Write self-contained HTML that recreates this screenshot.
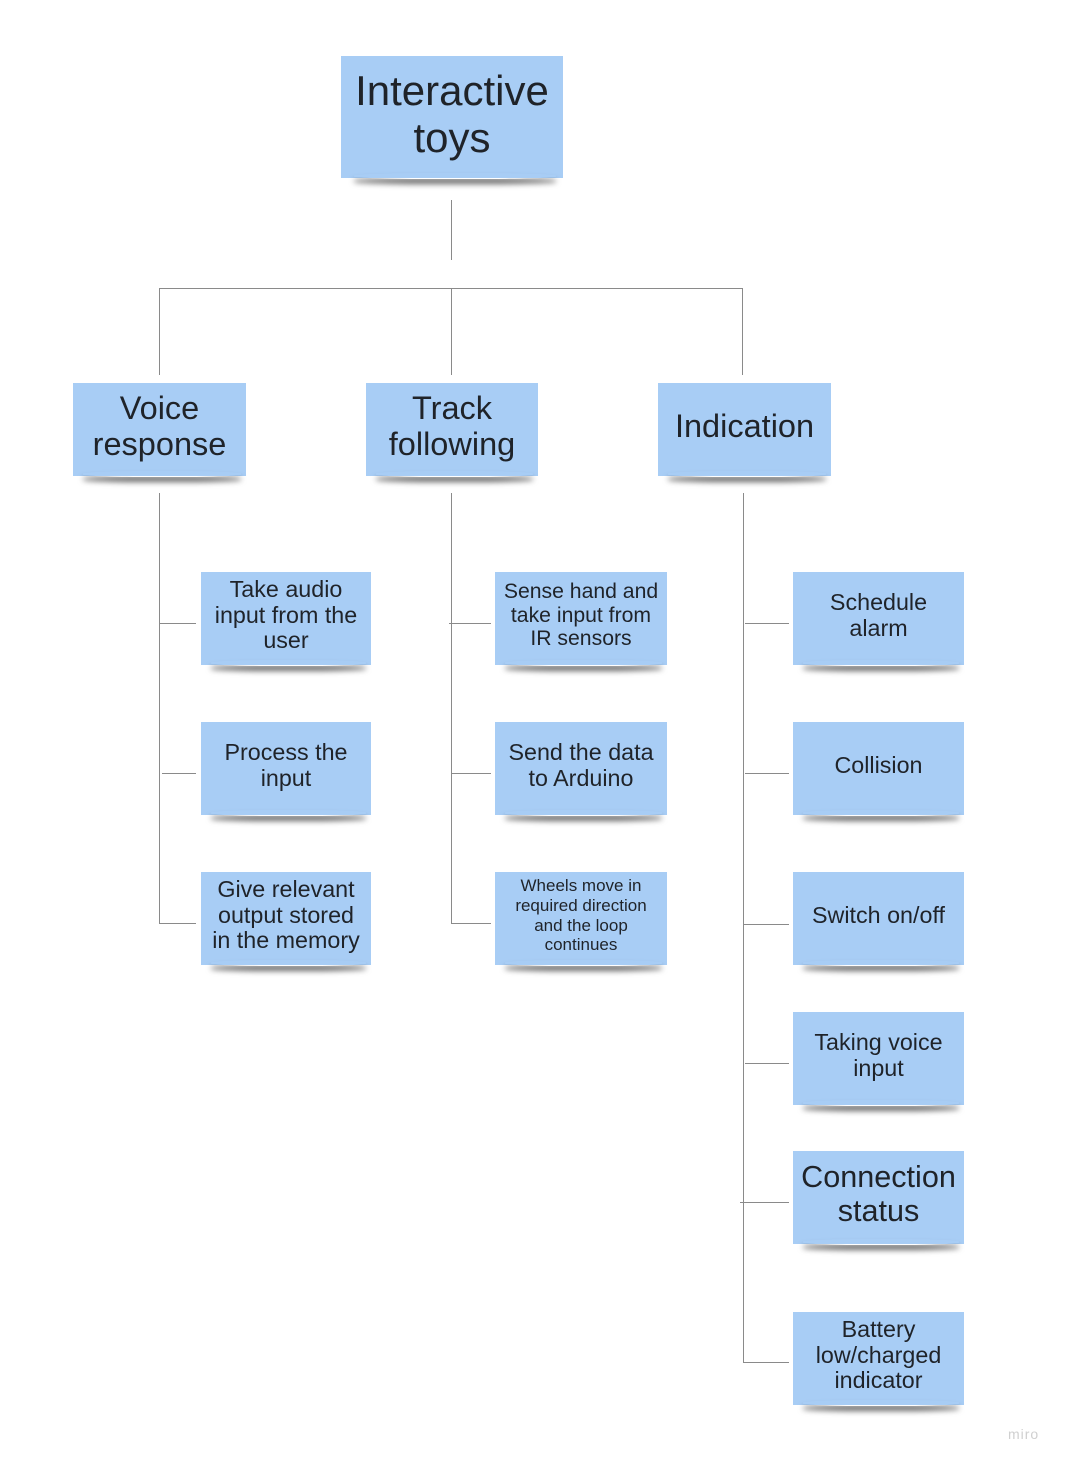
<!DOCTYPE html>
<html><head><meta charset="utf-8"><style>
html,body{margin:0;padding:0;background:#fff;}
body{width:1067px;height:1463px;position:relative;overflow:hidden;font-family:"Liberation Sans",Arial,sans-serif;}
.n{position:absolute;background:#a8cdf5;color:#1f2329;display:flex;align-items:center;justify-content:center;text-align:center;box-sizing:border-box;padding:0 4px 6px 4px;line-height:1.16;z-index:2;}
.n::after{content:"";position:absolute;left:6%;right:3%;bottom:-1px;height:6px;box-shadow:0 5px 6px rgba(0,0,0,0.6);z-index:-1;border-radius:40%;}
.l{position:absolute;background:#8a8a8a;}
.h{height:1px;}
.v{width:1px;}
.m{position:absolute;left:1008px;top:1426px;color:#d0d0d0;font-size:14px;letter-spacing:1px;}
</style></head><body>
<div class="l v" style="left:451px;top:200px;height:60px"></div>
<div class="l h" style="left:159px;top:288px;width:584px"></div>
<div class="l v" style="left:159px;top:288px;height:87px"></div>
<div class="l v" style="left:451px;top:288px;height:87px"></div>
<div class="l v" style="left:742px;top:288px;height:87px"></div>

<div class="l v" style="left:159px;top:493px;height:431px"></div>
<div class="l h" style="left:159px;top:623px;width:37px"></div>
<div class="l h" style="left:162px;top:773px;width:34px"></div>
<div class="l h" style="left:159px;top:923px;width:37px"></div>

<div class="l v" style="left:451px;top:493px;height:431px"></div>
<div class="l h" style="left:449px;top:623px;width:42px"></div>
<div class="l h" style="left:451px;top:773px;width:40px"></div>
<div class="l h" style="left:451px;top:923px;width:40px"></div>

<div class="l v" style="left:743px;top:493px;height:870px"></div>
<div class="l h" style="left:745px;top:623px;width:44px"></div>
<div class="l h" style="left:745px;top:773px;width:44px"></div>
<div class="l h" style="left:743px;top:924px;width:46px"></div>
<div class="l h" style="left:745px;top:1063px;width:44px"></div>
<div class="l h" style="left:740px;top:1202px;width:49px"></div>
<div class="l h" style="left:743px;top:1362px;width:46px"></div>

<div class="n" style="left:341px;top:56px;width:222px;height:122px;font-size:42px;line-height:1.12;">Interactive<br>toys</div>

<div class="n" style="left:73px;top:383px;width:173px;height:93px;font-size:32.5px;line-height:1.1;">Voice<br>response</div>
<div class="n" style="left:366px;top:383px;width:172px;height:93px;font-size:32.5px;line-height:1.1;">Track<br>following</div>
<div class="n" style="left:658px;top:383px;width:173px;height:93px;font-size:32.5px;">Indication</div>

<div class="n" style="left:201px;top:572px;width:170px;height:93px;font-size:23.3px;line-height:1.1;">Take audio<br>input from the<br>user</div>
<div class="n" style="left:201px;top:722px;width:170px;height:93px;font-size:23.3px;line-height:1.1;">Process the<br>input</div>
<div class="n" style="left:201px;top:872px;width:170px;height:93px;font-size:23.3px;line-height:1.1;">Give relevant<br>output stored<br>in the memory</div>

<div class="n" style="left:495px;top:572px;width:172px;height:93px;font-size:21.2px;line-height:1.12;">Sense hand and<br>take input from<br>IR sensors</div>
<div class="n" style="left:495px;top:722px;width:172px;height:93px;font-size:23.3px;line-height:1.1;">Send the data<br>to Arduino</div>
<div class="n" style="left:495px;top:872px;width:172px;height:93px;font-size:17px;line-height:1.15;">Wheels move in<br>required direction<br>and the loop<br>continues</div>

<div class="n" style="left:793px;top:572px;width:171px;height:93px;font-size:23.3px;line-height:1.1;">Schedule<br>alarm</div>
<div class="n" style="left:793px;top:722px;width:171px;height:93px;font-size:23.3px;">Collision</div>
<div class="n" style="left:793px;top:872px;width:171px;height:93px;font-size:23.3px;">Switch on/off</div>
<div class="n" style="left:793px;top:1012px;width:171px;height:93px;font-size:23.3px;line-height:1.1;">Taking voice<br>input</div>
<div class="n" style="left:793px;top:1151px;width:171px;height:93px;font-size:30.6px;line-height:1.1;">Connection<br>status</div>
<div class="n" style="left:793px;top:1312px;width:171px;height:93px;font-size:23.3px;line-height:1.1;">Battery<br>low/charged<br>indicator</div>

<div class="m">miro</div>
</body></html>
